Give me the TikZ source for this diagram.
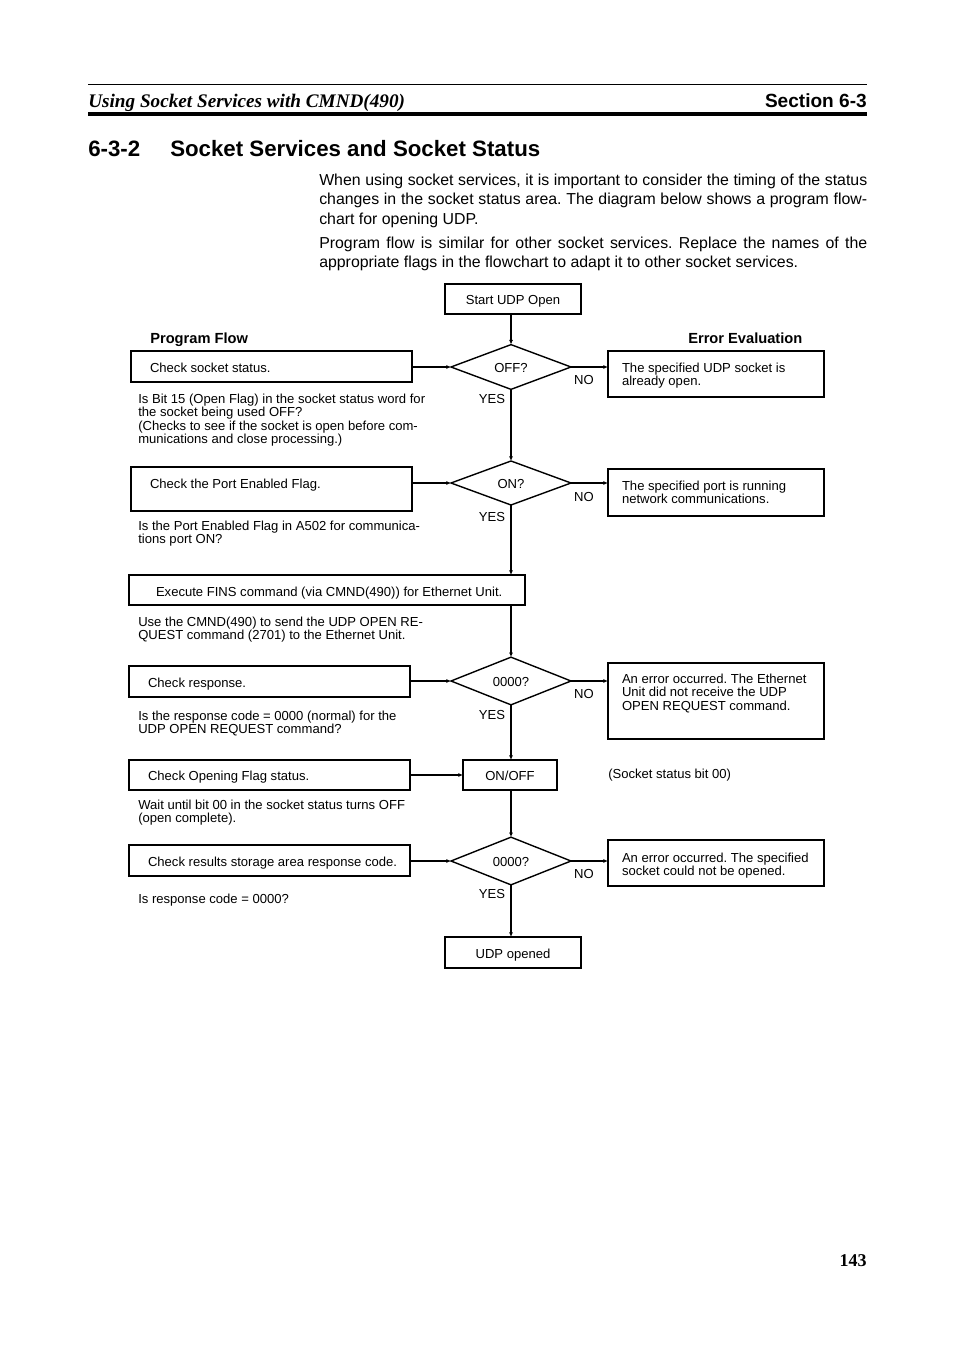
\documentclass[tikz,border=0pt]{standalone}
\usepackage{fontspec}
\setmainfont{Liberation Sans}
\newfontfamily\hdrserif{Liberation Serif}
\usetikzlibrary{arrows.meta,shapes.geometric}
\frenchspacing
\newdimen\pxu \pxu=0.75pt
\newcommand\fcfont{\fontsize{9.8}{9.5}\selectfont}
\newcommand\lines[1]{\begin{tabular}[t]{@{}l@{}}#1\end{tabular}}
\newcommand\inbox[3]{\hbox to #1\pxu{\hskip #2\pxu #3\hfil}}
\newcommand\cbox[2]{\hbox to #1\pxu{\hfil #2\hfil}}
\begin{document}
\begin{tikzpicture}[x=0.75pt,y=-0.75pt,
 bx/.style={draw, line width=1.05pt, inner sep=0pt, outer sep=0pt, anchor=north west, font=\fcfont},
 hd/.style 2 args={text height=#1\pxu, text depth=#2\pxu},
 dia/.style={draw, diamond, line width=1.05pt, inner sep=0pt, outer sep=0pt, minimum width=120\pxu, minimum height=44\pxu, font=\fcfont, text height=8.5pt, text depth=0pt},
 lbl/.style={inner sep=0pt, font=\fcfont, text height=8.5pt, text depth=0pt},
 desc/.style={inner sep=0pt, anchor=base west, font=\fcfont},
 vconn/.style={line width=0.9pt, -{Latex[length=3.5pt,width=3pt]}},
 hconn/.style={line width=1.5pt, -{Latex[length=3.5pt,width=3pt]}},
 head/.style={inner sep=0pt, anchor=base west, font=\fontsize{11}{13}\selectfont\bfseries},
 body/.style={inner sep=0pt, anchor=base west, font=\fontsize{11.9}{14.5}\selectfont},
]
\fill[white] (0,0) rectangle (954,1351);
\useasboundingbox (0,0) rectangle (954,1351);

% page header
\draw[line width=0.75pt] (88,85) -- (867,85);
\draw[line width=3pt] (88,114) -- (867,114);
\node[inner sep=0pt, anchor=base west, font=\hdrserif\bfseries\itshape\fontsize{14.4}{16}\selectfont] (hdrl) at (88,108) {Using Socket Services with CMND(490)};
\node[inner sep=0pt, anchor=base east, font=\bfseries\fontsize{14.3}{16}\selectfont] (hdrr) at (867,108) {Section 6-3};
\node[inner sep=0pt, anchor=base west, font=\bfseries\fontsize{16.7}{19}\selectfont] (secno) at (88,157) {6-3-2};
\node[inner sep=0pt, anchor=base west, font=\bfseries\fontsize{16.7}{19}\selectfont] (sectitle) at (170,157) {Socket Services and Socket Status};

\node[body] (para1) at (319,185.5) {\parbox[t]{548\pxu}{When using socket services, it is important to consider the timing of the status\linebreak changes in the socket status area. The diagram below shows a program flow-\linebreak chart for opening UDP.}};
\node[body] (para2) at (319,248.5) {\parbox[t]{548\pxu}{Program flow is similar for other socket services. Replace the names of the\linebreak appropriate flags in the flowchart to adapt it to other socket services.}};

% column heads
\node[head] (pf) at (150,343.3) {Program Flow};
\node[head] (ee) at (688,343.3) {Error Evaluation};

% flow boxes
\node[bx, hd={20.7}{9.3}] (start) at (445,284) {\cbox{136}{Start UDP Open}};
\node[dia] (d1) at (511,367) {OFF?};
\node[bx, hd={21.7}{9.3}] (chk1) at (131,351) {\inbox{281}{19}{Check socket status.}};
\node[bx, hd={21.7}{24.3}] (err1) at (608,351) {\inbox{216}{14}{\lines{The specified UDP socket is\\already open.}}};
\node[desc] (desc1) at (138,403.7) {\lines{Is Bit 15 (Open Flag) in the socket status word for\\the socket being used OFF?\\(Checks to see if the socket is open before com-\\munications and close processing.)}};

\node[dia] (d2) at (511,483) {ON?};
\node[bx, hd={21.7}{22.3}] (port) at (131,467) {\inbox{281}{19}{Check the Port Enabled Flag.}};
\node[bx, hd={21.7}{25.3}] (err2) at (608,469) {\inbox{216}{14}{\lines{The specified port is running\\network communications.}}};
\node[desc] (desc2) at (138,530.7) {\lines{Is the Port Enabled Flag in A502 for communica-\\tions port ON?}};

\node[bx, hd={21.7}{8.3}] (exec) at (129,575) {\inbox{396}{27}{Execute FINS command (via CMND(490)) for Ethernet Unit.}};
\node[desc] (desc3) at (138,626.7) {\lines{Use the CMND(490) to send the UDP OPEN RE-\\QUEST command (2701) to the Ethernet Unit.}};

\node[dia] (d3) at (511,681) {0000?};
\node[bx, hd={21.7}{9.3}] (resp) at (129,666) {\inbox{281}{19}{Check response.}};
\node[bx, hd={20.7}{55.3}] (err3) at (608,663) {\inbox{216}{14}{\lines{An error occurred. The Ethernet\\Unit did not receive the UDP\\OPEN REQUEST command.}}};
\node[desc] (desc4) at (138,720.7) {\lines{Is the response code = 0000 (normal) for the\\UDP OPEN REQUEST command?}};

\node[bx, hd={20.7}{9.3}] (onoff) at (463,760) {\cbox{94}{ON/OFF}};
\node[bx, hd={20.7}{9.3}] (open) at (129,760) {\inbox{281}{19}{Check Opening Flag status.}};
\node[desc] (sbit) at (608,778.7) {(Socket status bit 00)};
\node[desc] (desc5) at (138,809.7) {\lines{Wait until bit 00 in the socket status turns OFF\\(open complete).}};

\node[dia] (d4) at (511,861) {0000?};
\node[bx, hd={21.7}{9.3}] (res) at (129,845) {\inbox{281}{19}{Check results storage area response code.}};
\node[bx, hd={22.7}{23.3}] (err4) at (608,840) {\inbox{216}{14}{\lines{An error occurred. The specified\\socket could not be opened.}}};
\node[desc] (desc6) at (138,903.7) {Is response code = 0000?};

\node[bx, hd={21.7}{9.3}] (done) at (445,937) {\cbox{136}{UDP opened}};

% YES / NO labels
\node[lbl] (no1) at (584,379) {NO};
\node[lbl] (yes1) at (492,398) {YES};
\node[lbl] (no2) at (584,496) {NO};
\node[lbl] (yes2) at (492,516) {YES};
\node[lbl] (no3) at (584,693) {NO};
\node[lbl] (yes3) at (492,714) {YES};
\node[lbl] (no4) at (584,873) {NO};
\node[lbl] (yes4) at (492,893) {YES};

% connectors
\draw[vconn] (start.south -| d1.north) -- (d1.north);
\draw[hconn] (chk1.east |- d1.west) -- (d1.west);
\draw[hconn] (d1.east) -- (d1.east -| err1.west);
\draw[vconn] (d1.south) -- (d2.north);
\draw[hconn] (port.east |- d2.west) -- (d2.west);
\draw[hconn] (d2.east) -- (d2.east -| err2.west);
\draw[vconn] (d2.south) -- (d2.south |- exec.north);
\draw[vconn] (exec.south -| d3.north) -- (d3.north);
\draw[hconn] (resp.east |- d3.west) -- (d3.west);
\draw[hconn] (d3.east) -- (d3.east -| err3.west);
\draw[vconn] (d3.south) -- (d3.south |- onoff.north);
\draw[hconn] (open.east |- onoff.west) -- (onoff.west);
\draw[vconn] (onoff.south -| d4.north) -- (d4.north);
\draw[hconn] (res.east |- d4.west) -- (d4.west);
\draw[hconn] (d4.east) -- (d4.east -| err4.west);
\draw[vconn] (d4.south) -- (d4.south |- done.north);

% page number
\node[inner sep=0pt, anchor=base east, font=\hdrserif\bfseries\fontsize{13.5}{15}\selectfont] (pageno) at (867,1266) {143};
\end{tikzpicture}
\end{document}
